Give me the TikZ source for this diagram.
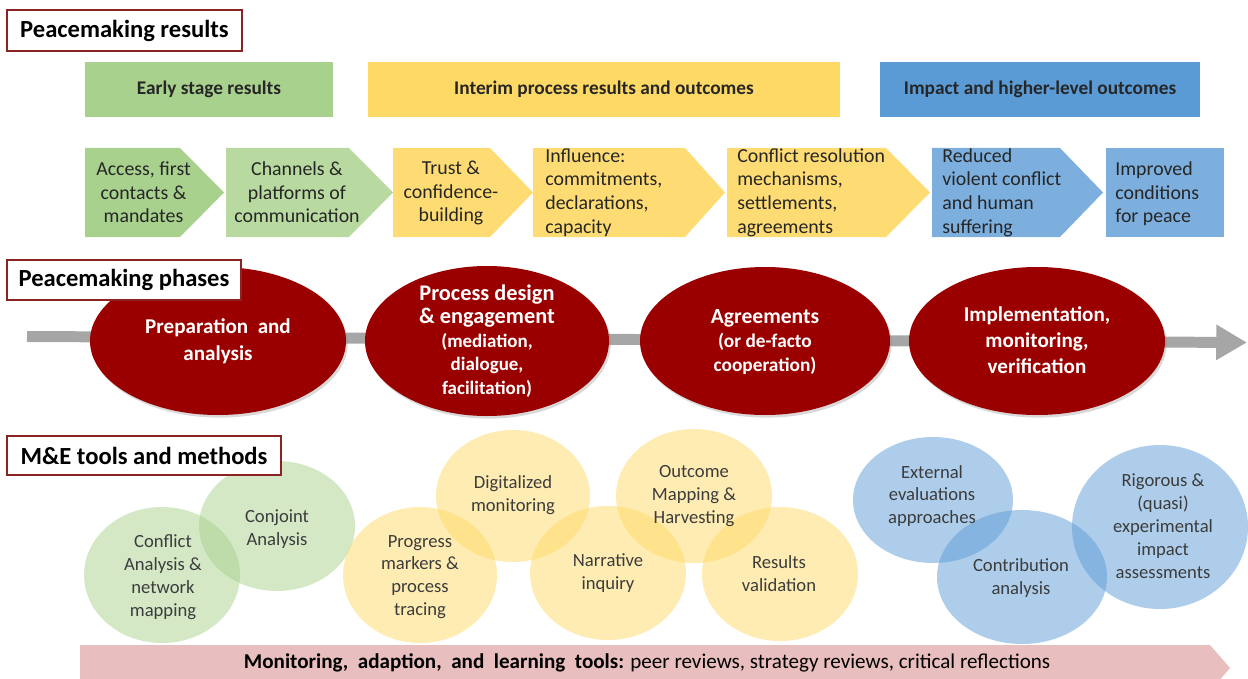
\documentclass[tikz,border=0pt]{standalone}
\usepackage{fontspec}
\setmainfont{Carlito}
\usetikzlibrary{arrows.meta,shadows}

\definecolor{titlered}{RGB}{140,35,35}
\definecolor{phasered}{RGB}{155,0,0}
\definecolor{greenA}{RGB}{169,209,142}
\definecolor{greenB}{RGB}{184,218,160}
\definecolor{yellowA}{RGB}{255,217,102}
\definecolor{yellowB}{RGB}{255,220,115}
\definecolor{blueA}{RGB}{91,155,213}
\definecolor{blueB}{RGB}{124,175,222}
\definecolor{barGray}{RGB}{166,166,166}
\definecolor{mlPink}{RGB}{232,190,190}
\definecolor{txt}{RGB}{38,38,38}
\definecolor{tooltxt}{RGB}{60,60,60}

\tikzset{
  heading/.style={draw=titlered, line width=1pt, fill=white, inner sep=0pt,
    font=\fontsize{14}{16}\selectfont\bfseries},
  band/.style={inner sep=0pt, text=txt, font=\fontsize{11}{13}\selectfont\bfseries},
  chev/.style={inner sep=0pt, text=txt, font=\fontsize{11.3}{13.4}\selectfont},
  phasefill/.style={fill=phasered, drop shadow={shadow xshift=1pt, shadow yshift=-1.5pt, opacity=0.3}},
  phasetext/.style={inner sep=0pt, align=center, text=white,
    font=\fontsize{12}{14.5}\selectfont\bfseries},
  toolfill/.style={fill=#1, fill opacity=0.5},
  tooltext/.style={inner sep=0pt, align=center, text=tooltxt,
    font=\fontsize{10.6}{13}\selectfont},
  phasebar/.style={draw=barGray, line width=6.25pt, -{Triangle[width=19pt,length=17.5pt]}}
}

\begin{document}
\begin{tikzpicture}[x=0.02cm, y=-0.02cm]
  \useasboundingbox (0,0) rectangle (1248,679);
  \clip (0,0) rectangle (1248,679);

  % result groups
  \node[band, fill=greenA, minimum width=4.96cm, minimum height=1.1cm] (early) at (209,89.5) {Early stage results};
  \node[band, fill=yellowA, minimum width=9.44cm, minimum height=1.1cm] (interim) at (604,89.5) {Interim process results and outcomes};
  \node[band, fill=blueA, minimum width=6.4cm, minimum height=1.1cm] (impact) at (1040,89.5) {Impact and higher-level outcomes};

  % result chain
  \fill[greenA] (85,148) -- (180,148) -- (224,192.5) -- (180,237) -- (85,237) -- cycle;
  \fill[greenB] (226,148) -- (349,148) -- (393,192.5) -- (349,237) -- (226,237) -- cycle;
  \fill[yellowB] (393,148) -- (490,148) -- (533,192.5) -- (490,237) -- (393,237) -- cycle;
  \fill[yellowB] (533,148) -- (685,148) -- (725,192.5) -- (685,237) -- (533,237) -- cycle;
  \fill[yellowB] (727,148) -- (886,148) -- (930,192.5) -- (886,237) -- (727,237) -- cycle;
  \fill[blueB] (932,148) -- (1060,148) -- (1103,192.5) -- (1060,237) -- (932,237) -- cycle;
  \fill[blueB] (1106,148) rectangle (1224,237);

  \node[chev, align=center] (access) at (143.5,192.5) {Access, first\\contacts \&\\mandates};
  \node[chev, align=center] (channels) at (297,192.5) {Channels \&\\platforms of\\communication};
  \node[chev, align=center] (trust) at (451,193) {Trust \&\\confidence-\\building};
  \node[chev, align=left, anchor=west] (influence) at (545,192.5) {Influence:\\commitments,\\declarations,\\capacity};
  \node[chev, align=left, anchor=west] (resolution) at (737,192.5) {Conflict resolution\\mechanisms,\\settlements,\\agreements};
  \node[chev, align=left, anchor=west] (reduced) at (942,192.5) {Reduced\\violent conflict\\and human\\suffering};
  \node[chev, align=left, anchor=west] (improved) at (1115,194) {Improved\\conditions\\for peace};

  % phases
  \coordinate (barStart) at (27,336.5);
  \coordinate (barEnd) at (1247,342.5);
  \draw[phasebar] (barStart) -- (barEnd);

  \fill[phasefill] (218,341) ellipse (128 and 74);
  \fill[phasefill] (487,341) ellipse (122 and 75);
  \fill[phasefill] (765,341) ellipse (125 and 74);
  \fill[phasefill] (1037,341) ellipse (128 and 74);

  \node[phasetext, font=\fontsize{12}{15.3}\selectfont\bfseries] (prep) at (218,341) {Preparation\ \ and\\analysis};
  \node[phasetext, font=\fontsize{10.8}{13.4}\selectfont\bfseries] (design) at (487,341)
    {{\fontsize{12.7}{15}\selectfont Process design}\\{\fontsize{12.7}{15}\selectfont\& engagement}\\(mediation,\\dialogue,\\facilitation)};
  \node[phasetext, font=\fontsize{11}{13.6}\selectfont\bfseries] (agree) at (765,342)
    {{\fontsize{12.3}{14}\selectfont Agreements}\\(or de-facto\\cooperation)};
  \node[phasetext, font=\fontsize{12}{14.8}\selectfont\bfseries] (implement) at (1037,340) {Implementation,\\monitoring,\\verification};

  % tools
  \fill[toolfill=greenA] (162,575) ellipse (78 and 68);
  \fill[toolfill=greenA] (277,526) ellipse (78 and 65);
  \fill[toolfill=yellowA] (420,575) ellipse (77 and 68);
  \fill[toolfill=yellowA] (513,496) ellipse (77 and 66);
  \fill[toolfill=yellowA] (608,573) ellipse (78 and 67);
  \fill[toolfill=yellowA] (694,496) ellipse (78 and 67);
  \fill[toolfill=yellowA] (780,574) ellipse (78 and 67);
  \fill[toolfill=blueA] (933,500) ellipse (80 and 63);
  \fill[toolfill=blueA] (1022,577) ellipse (85 and 67);
  \fill[toolfill=blueA] (1160,527) ellipse (88 and 82);

  \node[tooltext] (conflict) at (163,577) {Conflict\\Analysis \&\\network\\mapping};
  \node[tooltext] (conjoint) at (277,529) {Conjoint\\Analysis};
  \node[tooltext] (progress) at (420,577) {Progress\\markers \&\\process\\tracing};
  \node[tooltext] (digital) at (513,495) {Digitalized\\monitoring};
  \node[tooltext] (narrative) at (608,573) {Narrative\\inquiry};
  \node[tooltext] (outcome) at (694,496) {Outcome\\Mapping \&\\Harvesting};
  \node[tooltext] (validation) at (779,574) {Results\\validation};
  \node[tooltext] (external) at (932,496) {External\\evaluations\\approaches};
  \node[tooltext] (contribution) at (1021,578) {Contribution\\analysis};
  \node[tooltext] (rigorous) at (1163,526) {Rigorous \&\\(quasi)\\experimental\\impact\\assessments};

  % learning tools
  \fill[mlPink] (80,645) -- (1210,645) -- (1230,668) -- (1210,691) -- (80,691) -- cycle;
  \node[inner sep=0pt, text=black, font=\fontsize{12}{14}\selectfont] (learning) at (647,663)
    {\textbf{Monitoring,\ \ adaption,\ \ and\ \ learning\ \ tools:} peer reviews,\ strategy reviews,\ critical reflections};

  % section titles
  \node[heading, minimum width=4.7cm, minimum height=0.82cm] (resultsHead) at (124.5,30.5) {Peacemaking results};
  \node[heading, minimum width=4.68cm, minimum height=0.8cm] (phasesHead) at (124,280) {Peacemaking phases};
  \node[heading, minimum width=5.48cm, minimum height=0.78cm] (toolsHead) at (144,455.5) {M\&E tools and methods};
\end{tikzpicture}
\end{document}
